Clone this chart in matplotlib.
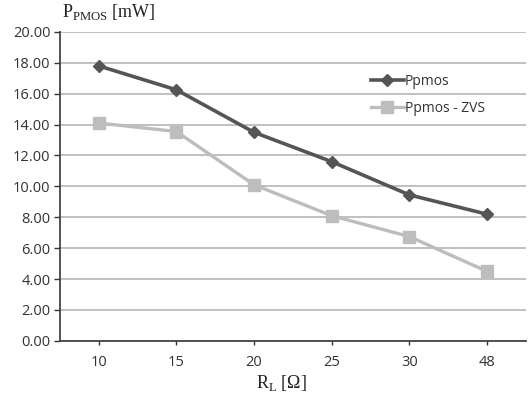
import matplotlib.pyplot as plt

# load resistance categories and measured PMOS losses
r_load = ["10", "15", "20", "25", "30", "48"]
p_pmos = [17.8, 16.25, 13.5, 11.6, 9.45, 8.2]
p_pmos_zvs = [14.1, 13.55, 10.1, 8.1, 6.75, 4.5]
y_ticks = [0, 2, 4, 6, 8, 10, 12, 14, 16, 18, 20]

fig = plt.figure(figsize=(5.31, 3.94), dpi=100)
ax = fig.add_axes([0.113, 0.135, 0.877, 0.784])

x = list(range(len(r_load)))
ax.plot(x, p_pmos, color="#555555", lw=2.6, marker="D", ms=6,
        label="Ppmos", zorder=3)
ax.plot(x, p_pmos_zvs, color="#bdbdbd", lw=2.4, marker="s", ms=9,
        label="Ppmos - ZVS", zorder=2)

ax.set_xlim(-0.5, len(r_load) - 0.5)
ax.set_ylim(0, 20)
ax.set_yticks(y_ticks)
ax.set_yticklabels([f"{v:.2f}" for v in y_ticks])
ax.set_xticks(x)
ax.set_xticklabels(r_load)
ax.tick_params(axis="both", labelsize=10.5, colors="#333333", length=3,
               width=1, pad=7)
ax.tick_params(axis="y", length=4, pad=3, direction="out")
for lbl in ax.get_xticklabels() + ax.get_yticklabels():
    lbl.set_family("Open Sans")

ax.grid(axis="y", color="#b5b5b5", lw=1.2)
ax.set_axisbelow(True)
for side in ["top", "right"]:
    ax.spines[side].set_visible(False)
ax.spines["left"].set_color("#444444")
ax.spines["bottom"].set_color("#444444")
ax.spines["left"].set_linewidth(1.3)
ax.spines["bottom"].set_linewidth(1.3)

fig.text(0.117, 0.945, r"P$_{\mathregular{PMOS}}$ [mW]", family="Liberation Serif",
         fontsize=13, color="#222222", ha="left", va="bottom")
fig.text(0.53, 0.003, r"R$_{\mathregular{L}}$ [Ω]", family="Liberation Serif",
         fontsize=13, color="#222222", ha="center", va="bottom")

leg = ax.legend(loc="upper left", bbox_to_anchor=(0.64, 0.905), frameon=False,
                handlelength=2.4, handletextpad=0.05, labelspacing=0.9,
                prop={"family": "Open Sans", "size": 10})
for t in leg.get_texts():
    t.set_color("#333333")

fig.savefig("out.png", dpi=100)
